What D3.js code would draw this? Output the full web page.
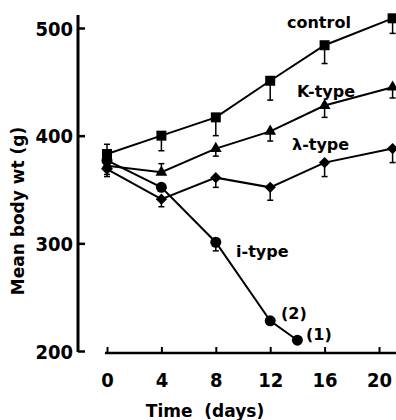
<!DOCTYPE html>
<html>
<head>
<meta charset="utf-8">
<script src="https://cdn.jsdelivr.net/npm/d3@7"></script>
<style>
  body { margin: 0; background: #fff; }
</style>
</head>
<body>
<div id="chart"></div>
<script>
// Data (days, mean body weight in g)
var days = [0, 4, 8, 12, 16, 21];
var iDays = [0, 4, 8, 12, 14];

var control = [383, 400, 417, 451, 484, 509];
var kType = [372, 366, 388, 404, 428, 445];
var lambdaType = [369, 341, 361, 352, 375, 388];
var iType = [377, 352, 301, 228, 210];

// error bars, sign gives the side that is drawn (+ above, - below)
var controlErr = [9, -14, -17, -18, -17, -14];
var kErr = [-8, 8, -7, -9, -11, -10];
var lambdaErr = [-7, -7, -9, -12, -13, -13];
var iErr = [0, 0, -8, 0, 0];

var xTicks = [0, 4, 8, 12, 16, 20];
var yTicks = [200, 300, 400, 500];

var svgWidth = 396;
var svgHeight = 420;

var svg = d3.select("#chart")
    .append("svg")
        .attr("width", svgWidth)
        .attr("height", svgHeight);

var x = d3.scaleLinear()
    .domain([0, 20])
    .range([107, 379]);

var y = d3.scaleLinear()
    .domain([200, 500])
    .range([351, 28]);

var tickFont = "'DejaVu Sans Condensed', 'DejaVu Sans', sans-serif";
var labelFont = "'DejaVu Sans', sans-serif";

// y axis (ticks point inward)
var yAxis = svg.append("g")
    .attr("transform", "translate(78,0)")
    .call(d3.axisLeft(y).tickValues(yTicks).tickSizeInner(-7).tickSizeOuter(0).tickPadding(5));
yAxis.select(".domain").remove();
yAxis.selectAll("line").attr("stroke", "#000").attr("stroke-width", 2.5);
yAxis.selectAll("text")
    .attr("font-family", tickFont)
    .attr("font-weight", "bold")
    .attr("font-size", 20)
    .attr("dy", "0.36em")
    .attr("fill", "#000");
svg.append("line")
    .attr("x1", 78).attr("x2", 78)
    .attr("y1", 15).attr("y2", y(200) + 1)
    .attr("stroke", "#000").attr("stroke-width", 3);

// x axis (detached from the y axis)
var xAxis = svg.append("g")
    .attr("transform", "translate(0,353)")
    .call(d3.axisBottom(x).tickValues(xTicks).tickSizeInner(-6).tickSizeOuter(0).tickPadding(20));
xAxis.select(".domain").remove();
xAxis.selectAll("line").attr("stroke", "#000").attr("stroke-width", 2);
xAxis.selectAll("text")
    .attr("font-family", tickFont)
    .attr("font-weight", "bold")
    .attr("font-size", 20)
    .attr("fill", "#000");
svg.append("line")
    .attr("x1", 105).attr("x2", 396)
    .attr("y1", 353).attr("y2", 353)
    .attr("stroke", "#000").attr("stroke-width", 2.5);

// axis titles
svg.append("text")
    .attr("x", 205)
    .attr("y", 417)
    .attr("text-anchor", "middle")
    .attr("font-family", labelFont)
    .attr("font-weight", "bold")
    .attr("font-size", 17)
    .attr("xml:space", "preserve")
    .text("Time  (days)");

svg.append("text")
    .attr("transform", "translate(24,211) rotate(-90)")
    .attr("text-anchor", "middle")
    .attr("font-family", labelFont)
    .attr("font-weight", "bold")
    .attr("font-size", 17)
    .text("Mean body wt (g)");

// series
var series = [
    { days: days, vals: control, err: controlErr, symbol: d3.symbolSquare, size: 100, rot: 0 },
    { days: days, vals: kType, err: kErr, symbol: d3.symbolTriangle, size: 60, rot: 0 },
    { days: days, vals: lambdaType, err: lambdaErr, symbol: d3.symbolSquare, size: 64, rot: 45 },
    { days: iDays, vals: iType, err: iErr, symbol: d3.symbolCircle, size: 95, rot: 0 }
];

var line = d3.line()
    .x(function(d) { return x(d[0]); })
    .y(function(d) { return y(d[1]); });

series.forEach(function(s) {
    var pts = s.days.map(function(d, i) { return [d, s.vals[i], s.err[i]]; });

    svg.append("path")
        .datum(pts)
        .attr("d", line)
        .attr("fill", "none")
        .attr("stroke", "#000")
        .attr("stroke-width", 2);

    // error bars
    var bars = svg.append("g").selectAll("g")
        .data(pts.filter(function(p) { return p[2] != 0; }))
        .enter()
        .append("g");
    bars.append("line")
        .attr("x1", function(p) { return x(p[0]); })
        .attr("x2", function(p) { return x(p[0]); })
        .attr("y1", function(p) { return y(p[1]); })
        .attr("y2", function(p) { return y(p[1] + p[2]); })
        .attr("stroke", "#000")
        .attr("stroke-width", 1.5);
    bars.append("line")
        .attr("x1", function(p) { return x(p[0]) - 3; })
        .attr("x2", function(p) { return x(p[0]) + 3; })
        .attr("y1", function(p) { return y(p[1] + p[2]); })
        .attr("y2", function(p) { return y(p[1] + p[2]); })
        .attr("stroke", "#000")
        .attr("stroke-width", 1.5);

    svg.append("g").selectAll("path")
        .data(pts)
        .enter()
        .append("path")
        .attr("d", d3.symbol().type(s.symbol).size(s.size))
        .attr("transform", function(p) {
            return "translate(" + x(p[0]) + "," + y(p[1]) + ") rotate(" + s.rot + ")";
        })
        .attr("fill", "#000");
});

// series labels
var labels = [
    { t: "control", x: 287, y: 28 },
    { t: "K-type", x: 297, y: 97 },
    { t: "\u03bb-type", x: 292, y: 150 },
    { t: "i-type", x: 236, y: 257 },
    { t: "(2)", x: 281, y: 319 },
    { t: "(1)", x: 306, y: 340 }
];
svg.selectAll(".lbl")
    .data(labels)
    .enter()
    .append("text")
    .attr("class", "lbl")
    .attr("x", function(d) { return d.x; })
    .attr("y", function(d) { return d.y; })
    .attr("font-family", labelFont)
    .attr("font-weight", "bold")
    .attr("font-size", 16)
    .text(function(d) { return d.t; });
</script>
</body>
</html>
